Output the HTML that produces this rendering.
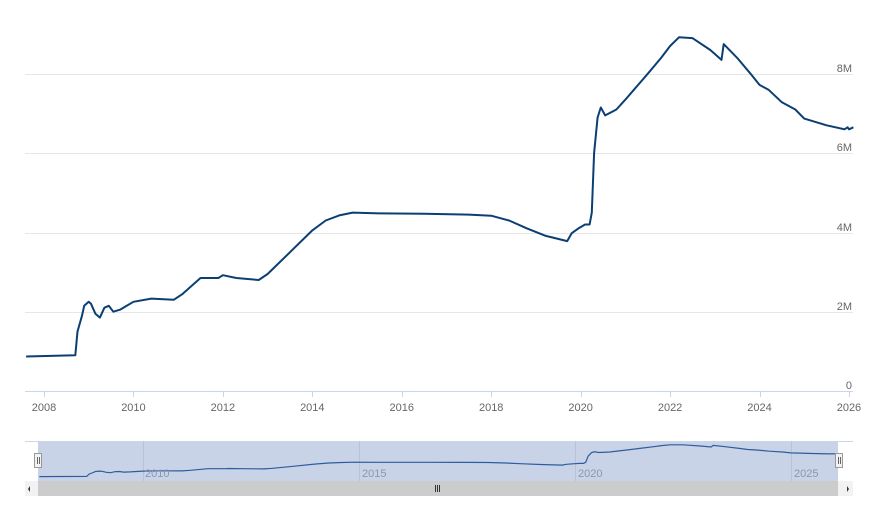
<!DOCTYPE html>
<html><head><meta charset="utf-8"><style>
html,body{margin:0;padding:0;background:#fff;width:869px;height:505px;overflow:hidden}
text{font-family:"Liberation Sans",sans-serif}
</style></head><body>
<svg id="s" width="869" height="505" xmlns="http://www.w3.org/2000/svg">
<g stroke="#e6e6e6" stroke-width="1">
<line x1="25" x2="853" y1="74.5" y2="74.5"/>
<line x1="25" x2="853" y1="153.5" y2="153.5"/>
<line x1="25" x2="853" y1="233.5" y2="233.5"/>
<line x1="25" x2="853" y1="312.5" y2="312.5"/>
</g>
<line x1="25" x2="853" y1="391.5" y2="391.5" stroke="#ccd6eb"/>
<g fill="#666" font-size="11" text-anchor="end">
<text x="852" y="72">8M</text><text x="852" y="151">6M</text>
<text x="852" y="231">4M</text><text x="852" y="310">2M</text><text x="852" y="389">0</text>
</g>
<g id="xt" fill="#666" font-size="11" text-anchor="middle"></g>
<path id="main" fill="none" stroke="#0b3f73" stroke-width="2" stroke-linejoin="round"/>
<rect x="38" y="441" width="800" height="40" fill="#c9d3e8"/>
<line x1="25" x2="853" y1="441.5" y2="441.5" stroke="#ccd6eb"/>
<g id="ng" stroke="#b8c3d9"></g>
<path id="nav" fill="none" stroke="#2f5c9e" stroke-width="1.2"/>
<g fill="#8a97ad" font-size="11">
<text x="145" y="477">2010</text><text x="362" y="477">2015</text><text x="578" y="477">2020</text><text x="794" y="477">2025</text>
</g>
<rect x="34.5" y="453.5" width="7" height="14" fill="#f2f2f2" stroke="#999"/>
<line x1="37.5" x2="37.5" y1="457" y2="464" stroke="#666"/><line x1="39.5" x2="39.5" y1="457" y2="464" stroke="#666"/>
<rect x="835.5" y="453.5" width="7" height="14" fill="#f2f2f2" stroke="#999"/>
<line x1="838.5" x2="838.5" y1="457" y2="464" stroke="#666"/><line x1="840.5" x2="840.5" y1="457" y2="464" stroke="#666"/>
<rect x="25" y="481" width="828" height="15" fill="#f2f2f2"/>
<rect x="38" y="481" width="800" height="15" fill="#cccccc"/>
<path d="M30 486 L30 492 L28 489 Z" fill="#333"/><path d="M847 486 L847 492 L849 489 Z" fill="#333"/>
<g stroke="#333"><line x1="435.5" x2="435.5" y1="485" y2="492"/><line x1="437.5" x2="437.5" y1="485" y2="492"/><line x1="439.5" x2="439.5" y1="485" y2="492"/></g>
</svg>
<script>
var d=[[2007.6,.87],[2008.7,.9],[2008.75,1.5],[2008.85,1.9],[2008.9,2.15],[2009.0,2.25],[2009.05,2.2],[2009.15,1.95],[2009.25,1.85],[2009.35,2.1],[2009.45,2.15],[2009.55,2.0],[2009.7,2.05],[2009.85,2.15],[2010.0,2.25],[2010.4,2.33],[2010.9,2.3],[2011.1,2.45],[2011.5,2.85],[2011.9,2.85],[2012.0,2.92],[2012.3,2.85],[2012.8,2.8],[2013.0,2.95],[2013.5,3.5],[2014.0,4.05],[2014.3,4.3],[2014.6,4.43],[2014.9,4.5],[2015.5,4.48],[2016.5,4.47],[2017.5,4.45],[2018.0,4.42],[2018.4,4.3],[2018.8,4.1],[2019.2,3.92],[2019.7,3.78],[2019.8,3.98],[2019.95,4.1],[2020.1,4.2],[2020.2,4.2],[2020.25,4.5],[2020.3,6.0],[2020.38,6.9],[2020.45,7.15],[2020.55,6.95],[2020.8,7.1],[2021.0,7.35],[2021.5,8.0],[2021.8,8.4],[2022.0,8.7],[2022.2,8.92],[2022.5,8.9],[2022.9,8.6],[2023.15,8.35],[2023.2,8.75],[2023.5,8.4],[2023.8,8.0],[2024.0,7.72],[2024.2,7.6],[2024.5,7.28],[2024.8,7.1],[2025.0,6.87],[2025.5,6.7],[2025.9,6.6],[2025.97,6.65],[2026.0,6.6],[2026.1,6.65]];
var m="",n="";
d.forEach(function(p,i){
 var x=44+(p[0]-2008)*44.72,y=391-p[1]*39.65;
 m+=(i?"L":"M")+x.toFixed(1)+" "+y.toFixed(1);
 var nx=143+(p[0]-2010)*43.2,ny=480-p[1]*3.95;
 n+=(i?"L":"M")+nx.toFixed(1)+" "+ny.toFixed(1);
});
document.getElementById("main").setAttribute("d",m);
document.getElementById("nav").setAttribute("d",n);
var xt=document.getElementById("xt"),ns="http://www.w3.org/2000/svg";
for(var yr=2008;yr<=2026;yr+=2){var x=44+(yr-2008)*44.72;
 var t=document.createElementNS(ns,"text");t.setAttribute("x",x);t.setAttribute("y",411);t.textContent=yr;xt.appendChild(t);
 var l=document.createElementNS(ns,"line");l.setAttribute("x1",Math.round(x)+.5);l.setAttribute("x2",Math.round(x)+.5);l.setAttribute("y1",392);l.setAttribute("y2",397);l.setAttribute("stroke","#ccd6eb");xt.appendChild(l);}
var ng=document.getElementById("ng");
[143,359,575,791].forEach(function(x){var l=document.createElementNS(ns,"line");l.setAttribute("x1",x+.5);l.setAttribute("x2",x+.5);l.setAttribute("y1",441);l.setAttribute("y2",481);ng.appendChild(l);});
</script>
</body></html>
